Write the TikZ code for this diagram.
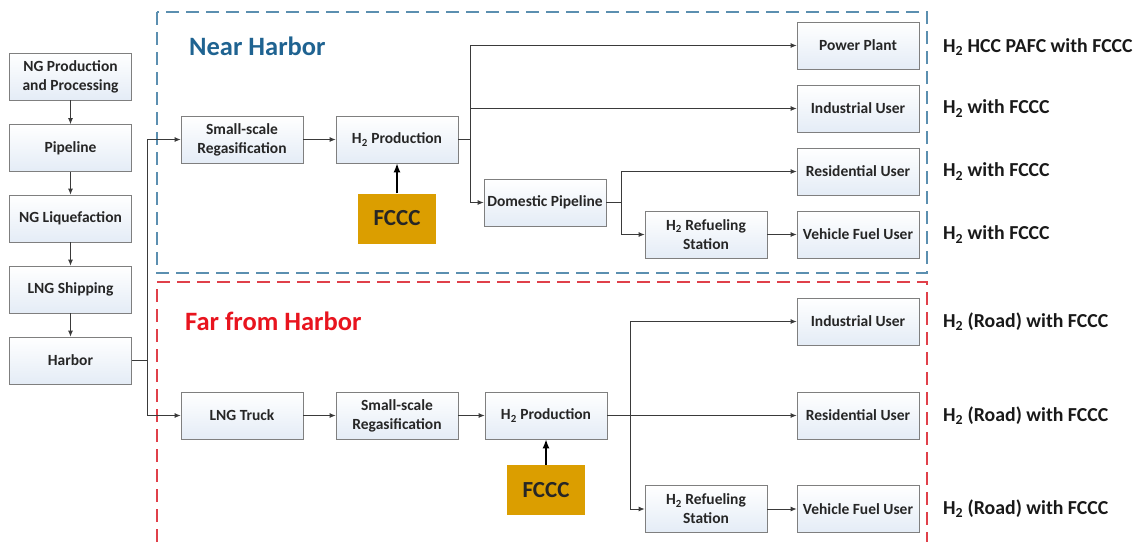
\documentclass[tikz,border=0pt]{standalone}
\usepackage{fontspec}
\setmainfont{Carlito}
\usetikzlibrary{arrows.meta}
\definecolor{edge}{HTML}{7F7F7F}
\definecolor{ln}{HTML}{3A3A3A}
\definecolor{nearc}{HTML}{5B8FB0}
\definecolor{neart}{HTML}{1F6391}
\definecolor{farc}{HTML}{E0404A}
\definecolor{fart}{HTML}{E8141E}
\definecolor{gold}{HTML}{DB9E00}
\definecolor{boxb}{HTML}{E4ECF6}
\begin{document}
\begin{tikzpicture}[x=1pt,y=-1pt,
  box/.style={draw=edge,line width=0.8pt,top color=white,bottom color=boxb,
    minimum width=122pt,minimum height=47pt,inner sep=1pt,align=center,
    font=\fontsize{15.5}{19}\selectfont\bfseries,text=black!85},
  fccc/.style={fill=gold,minimum width=78pt,minimum height=50pt,
    font=\fontsize{23}{26}\selectfont\bfseries,text=black!85},
  lab/.style={anchor=west,font=\fontsize{19.8}{22}\selectfont\bfseries,text=black!90,inner sep=0pt},
  arr/.style={draw=ln,line width=0.8pt,-{Latex[length=6pt,width=5pt]}},
  ln/.style={draw=ln,line width=0.8pt},
  farr/.style={draw=black,line width=1.4pt,-{Latex[length=9pt,width=7pt]}},
  nearbox/.style={draw=nearc,line width=1.1pt,dash pattern=on 13pt off 7pt},
  farbox/.style={draw=farc,line width=1.1pt,dash pattern=on 13pt off 7pt},
  ttl/.style={anchor=west,font=\fontsize{26.5}{30}\selectfont\bfseries,inner sep=0pt}]
\useasboundingbox (0,0) rectangle (1138,542);
% regions
\draw[nearbox] (157,12) rectangle (927,273);
\draw[farbox] (157,542) -- (157,282) -- (927,282) -- (927,542);
\node[ttl,text=neart] (tn) at (189,46) {Near Harbor};
\node[ttl,text=fart] (tf) at (185,321) {Far from Harbor};
% left column
\node[box] (ngp) at (70.5,76.5) {NG Production\\and Processing};
\node[box] (pip) at (70.5,148) {Pipeline};
\node[box] (liq) at (70.5,218.5) {NG Liquefaction};
\node[box] (shp) at (70.5,289.5) {LNG Shipping};
\node[box] (hrb) at (70.5,360.5) {Harbor};
\draw[arr] (ngp) -- (pip);
\draw[arr] (pip) -- (liq);
\draw[arr] (liq) -- (shp);
\draw[arr] (shp) -- (hrb);
% near harbor
\node[box] (nreg) at (242,139.5) {Small-scale\\Regasification};
\node[box] (nh2) at (397,139.5) {H\textsubscript{2} Production};
\node[fccc] (nfc) at (397,218.5) {FCCC};
\node[box] (npp) at (858,45.5) {Power Plant};
\node[box] (niu) at (858,108.5) {Industrial User};
\node[box] (nru) at (858,171.5) {Residential User};
\node[box] (nvf) at (858,234.5) {Vehicle Fuel User};
\node[box] (ndp) at (545,202.5) {Domestic Pipeline};
\node[box] (nrs) at (706,234.5) {H\textsubscript{2} Refueling\\Station};
% far from harbor
\node[box] (ftr) at (242,415.5) {LNG Truck};
\node[box] (freg) at (397,415.5) {Small-scale\\Regasification};
\node[box] (fh2) at (546,415.5) {H\textsubscript{2} Production};
\node[fccc] (ffc) at (546,490) {FCCC};
\node[box] (fiu) at (858,321.5) {Industrial User};
\node[box] (fru) at (858,415.5) {Residential User};
\node[box] (fvf) at (858,509) {Vehicle Fuel User};
\node[box] (frs) at (706,509) {H\textsubscript{2} Refueling\\Station};
% harbor split
\coordinate (hs) at (147,360.5);
\draw[ln] (hrb.east) -- (hs);
\draw[arr] (hs) |- (nreg.west);
\draw[arr] (hs) |- (ftr.west);
% near connections
\draw[arr] (nreg) -- (nh2);
\draw[farr] (nfc) -- (nh2);
\coordinate (ns) at (470,139.5);
\draw[ln] (nh2.east) -- (ns);
\draw[arr] (ns) |- (npp.west);
\draw[arr] (ns) |- (niu.west);
\draw[arr] (ns) |- (ndp.west);
\coordinate (ds) at (621,202.5);
\draw[ln] (ndp.east) -- (ds);
\draw[arr] (ds) |- (nru.west);
\draw[arr] (ds) |- (nrs.west);
\draw[arr] (nrs) -- (nvf);
% far connections
\draw[arr] (ftr) -- (freg);
\draw[arr] (freg) -- (fh2);
\draw[farr] (ffc) -- (fh2);
\coordinate (fs) at (630,415.5);
\coordinate (ft) at (630,321.5);
\draw[arr] (fh2.east) -- (fru.west);
\draw[ln] (fs) -- (ft);
\draw[arr] (ft) -- (fiu.west);
\draw[arr] (fs) |- (frs.west);
\draw[arr] (frs) -- (fvf);
% right labels
\node[lab] (l1) at (943,47) {H\textsubscript{2} HCC PAFC with FCCC};
\node[lab] (l2) at (943,108.5) {H\textsubscript{2} with FCCC};
\node[lab] (l3) at (943,171.5) {H\textsubscript{2} with FCCC};
\node[lab] (l4) at (943,234.5) {H\textsubscript{2} with FCCC};
\node[lab] (l5) at (943,321.5) {H\textsubscript{2} (Road) with FCCC};
\node[lab] (l6) at (943,415.5) {H\textsubscript{2} (Road) with FCCC};
\node[lab] (l7) at (943,509) {H\textsubscript{2} (Road) with FCCC};
\end{tikzpicture}
\end{document}
